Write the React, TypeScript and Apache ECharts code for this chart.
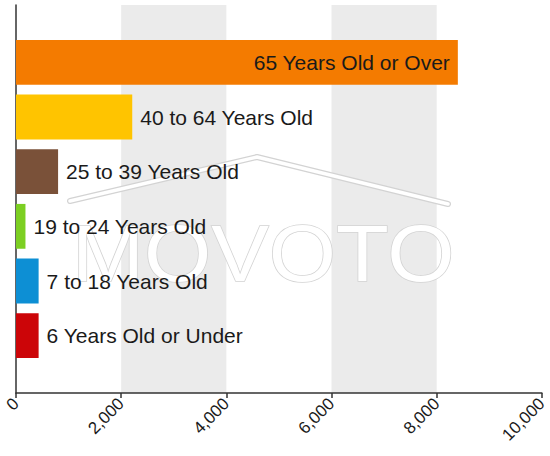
import React, { useEffect, useRef } from "react";
import * as echarts from "echarts";

const categories = [
  "65 Years Old or Over",
  "40 to 64 Years Old",
  "25 to 39 Years Old",
  "19 to 24 Years Old",
  "7 to 18 Years Old",
  "6 Years Old or Under",
];
const values = [8400, 2210, 800, 180, 430, 430];
const barColors = ["#F47B00", "#FFC400", "#7A5139", "#7CCF22", "#0D8FD4", "#CC0508"];
const xTicks = [0, 2000, 4000, 6000, 8000, 10000];

const FONT = '"Liberation Sans", Arial, sans-serif';

export default function App() {
  const ref = useRef<HTMLDivElement>(null);

  useEffect(() => {
    if (!ref.current) return;
    const chart = echarts.init(ref.current, undefined, { renderer: "svg" });
    const xMin = xTicks[0];
    const xMax = xTicks[xTicks.length - 1];
    const interval = xTicks[1] - xTicks[0];

    chart.setOption({
      animation: false,
      backgroundColor: "#ffffff",
      textStyle: { fontFamily: FONT },
      grid: [
        { left: 16, right: 8, top: 5, bottom: 63, containLabel: false },
        { left: 16, right: 8, top: 35, bottom: 93, containLabel: false },
      ],
      xAxis: [
        {
          type: "value",
          gridIndex: 0,
          min: xMin,
          max: xMax,
          interval,
          axisLine: { show: true, lineStyle: { color: "#333", width: 1.5 } },
          axisTick: { show: true, length: 5, lineStyle: { color: "#333", width: 1.5 } },
          axisLabel: {
            rotate: 45,
            margin: 8,
            fontSize: 17,
            color: "#1a1a1a",
            fontFamily: FONT,
            formatter: (v: number) => v.toLocaleString("en-US"),
          },
          splitLine: { show: false },
          splitArea: {
            show: true,
            areaStyle: { color: ["rgba(255,255,255,0)", "#ebebeb"] },
          },
        },
        {
          type: "value",
          gridIndex: 1,
          min: xMin,
          max: xMax,
          show: false,
        },
      ],
      yAxis: [
        {
          type: "value",
          gridIndex: 0,
          min: 0,
          max: 1,
          axisLine: { show: true, lineStyle: { color: "#333", width: 1.5 } },
          axisTick: { show: false },
          axisLabel: { show: false },
          splitLine: { show: false },
        },
        {
          type: "category",
          gridIndex: 1,
          data: categories,
          inverse: true,
          show: false,
        },
      ],
      graphic: [
        {
          type: "polyline",
          z: 1,
          shape: { points: [[70, 201], [257, 157], [448, 204]] },
          style: { stroke: "#d3d3d3", lineWidth: 6, lineCap: "round", lineJoin: "round", fill: "none" },
        },
        {
          type: "polyline",
          z: 1,
          shape: { points: [[70, 201], [257, 157], [448, 204]] },
          style: { stroke: "#ffffff", lineWidth: 3.5, lineCap: "round", lineJoin: "round", fill: "none" },
        },
        {
          type: "text",
          z: 1,
          x: 72,
          y: 254,
          scaleX: 1.08,
          style: {
            text: "MOVOTO",
            fontSize: 80,
            fontFamily: FONT,
            fill: "#ffffff",
            stroke: "#d3d3d3",
            lineWidth: 1.5,
            textAlign: "left",
            textVerticalAlign: "middle",
          },
        },
      ],
      series: [
        {
          type: "bar",
          xAxisIndex: 1,
          yAxisIndex: 1,
          barCategoryGap: "18%",
          z: 3,
          data: values.map((v, i) => ({
            value: v,
            itemStyle: { color: barColors[i] },
            label: {
              show: true,
              position: i === 0 ? "insideRight" : "right",
              distance: 8,
              formatter: "{b}",
              fontSize: 21,
              fontFamily: FONT,
              color: "#1a1a1a",
            },
          })),
        },
      ],
    });

    return () => chart.dispose();
  }, []);

  return (
    <div
      ref={ref}
      style={{ position: "fixed", left: 0, top: 0, width: 550, height: 456 }}
    />
  );
}
